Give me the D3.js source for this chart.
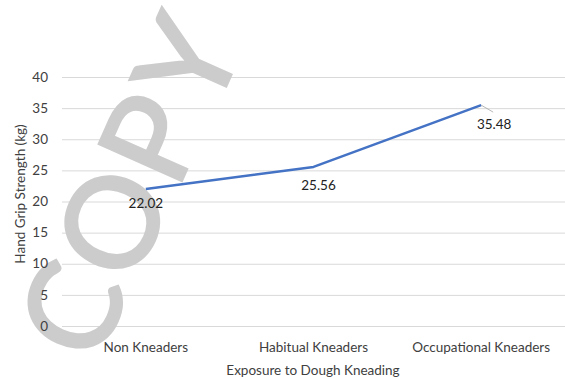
<!DOCTYPE html>
<html>
<head>
<meta charset="utf-8">
<script src="https://cdn.jsdelivr.net/npm/d3@7"></script>
<style>
  html, body { margin: 0; padding: 0; background: #fff; }
  svg text { font-family: Lato, "Open Sans", sans-serif; fill: #404040; }
</style>
</head>
<body>
<div id="chart"></div>
<script>
// data
const categories = ["Non Kneaders", "Habitual Kneaders", "Occupational Kneaders"];
const gripStrength = [22.02, 25.56, 35.48];
const yTicks = [0, 5, 10, 15, 20, 25, 30, 35, 40];
const watermark = ["C", "O", "P", "Y"];

const W = 565, H = 379;
const m = { t: 77, r: 0, b: 53, l: 62 };
const svg = d3.select("#chart").append("svg").attr("width", W).attr("height", H);

const x = d3.scaleBand().domain(categories).range([m.l, W - m.r]);
const y = d3.scaleLinear().domain([0, 40]).range([H - m.b, m.t]);
const cx = c => x(c) + x.bandwidth() / 2;

// gridlines
svg.append("g").selectAll("line").data(yTicks).join("line")
  .attr("x1", m.l).attr("x2", W - m.r)
  .attr("y1", d => y(d) + 0.5).attr("y2", d => y(d) + 0.5)
  .attr("stroke", "#d9d9d9").attr("stroke-width", 1);

// watermark "COPY" (sits under labels and line)
const wmPos = [[72, 309], [112, 222], [151, 138], [187, 62]];
svg.append("g").selectAll("text").data(watermark).join("text")
  .attr("transform", (d, i) => `translate(${wmPos[i][0]},${wmPos[i][1]}) rotate(-66)`)
  .attr("text-anchor", "middle").attr("dy", "0.36em")
  .style("font-size", "126px").style("fill", "#cccccc")
  .attr("stroke", "#cccccc").attr("stroke-width", 3)
  .text(d => d);

// y tick labels
svg.append("g").selectAll("text").data(yTicks).join("text")
  .attr("x", 48).attr("y", d => y(d)).attr("dy", "0.35em")
  .attr("text-anchor", "end").style("font-size", "13.5px")
  .text(d => d);

// category labels
svg.append("g").selectAll("text").data(categories).join("text")
  .attr("x", d => cx(d)).attr("y", 347).attr("dy", "0.35em")
  .attr("text-anchor", "middle").style("font-size", "13.5px")
  .text(d => d);

// axis titles
svg.append("text").attr("x", 313).attr("y", 370).attr("dy", "0.35em")
  .attr("text-anchor", "middle").style("font-size", "13.5px")
  .text("Exposure to Dough Kneading");
svg.append("text").attr("transform", "translate(20,194) rotate(-90)").attr("dy", "0.35em")
  .attr("text-anchor", "middle").style("font-size", "13.5px")
  .text("Hand Grip Strength (kg)");

// line
const pts = categories.map((c, i) => [cx(c), y(gripStrength[i])]);
svg.append("path").datum(pts)
  .attr("d", d3.line())
  .attr("fill", "none").attr("stroke", "#4472c4").attr("stroke-width", 2.5)
  .attr("stroke-linejoin", "round");

// data labels
const labelOff = [[0, 14], [5, 18], [13, 19]];
svg.append("line")
  .attr("x1", pts[2][0]).attr("y1", pts[2][1])
  .attr("x2", pts[2][0] + 12).attr("y2", pts[2][1] + 7)
  .attr("stroke", "#a6a6a6").attr("stroke-width", 0.8);
svg.append("g").selectAll("text").data(gripStrength).join("text")
  .attr("x", (d, i) => pts[i][0] + labelOff[i][0])
  .attr("y", (d, i) => pts[i][1] + labelOff[i][1]).attr("dy", "0.35em")
  .attr("text-anchor", "middle").style("font-size", "13.5px").style("fill", "#222")
  .text(d => d.toFixed(2));
</script>
</body>
</html>
